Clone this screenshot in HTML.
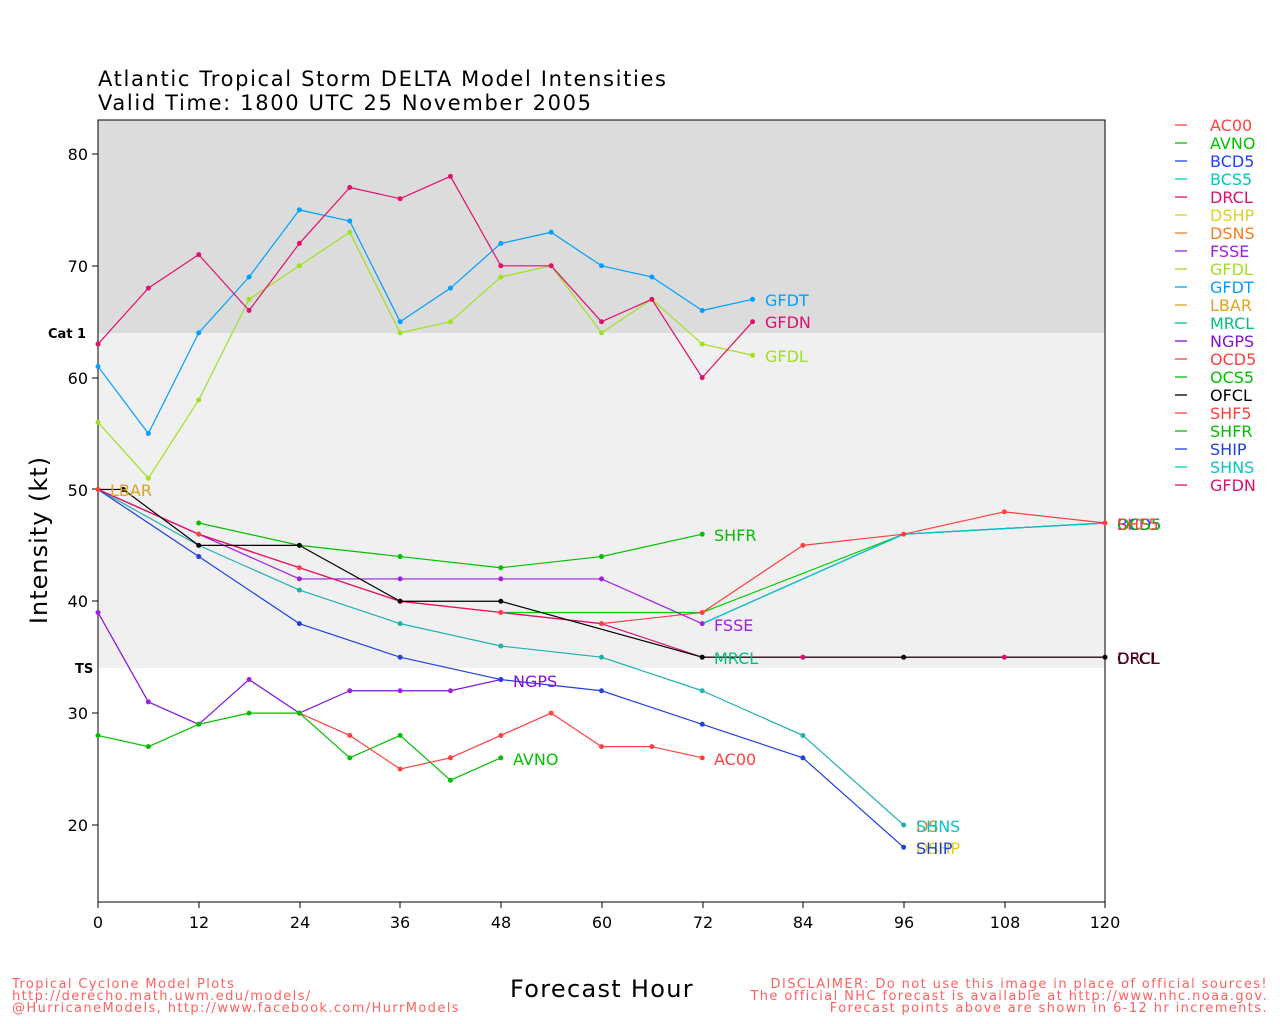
<!DOCTYPE html>
<html><head><meta charset="utf-8"><style>
body{margin:0;background:#fff}
svg{display:block;font-family:"DejaVu Sans","Liberation Sans",sans-serif}
</style></head><body>
<svg width="1280" height="1024" viewBox="0 0 1280 1024" xmlns="http://www.w3.org/2000/svg">
<rect width="1280" height="1024" fill="#fff"/>
<rect x="98" y="120" width="1007" height="213" fill="#dcdcdc"/>
<rect x="98" y="333" width="1007" height="335" fill="#f0f0f0"/>
<rect x="98" y="120" width="1007" height="782" fill="none" stroke="#000" stroke-width="1"/>
<text x="98" y="86" font-size="21" letter-spacing="1.65">Atlantic Tropical Storm DELTA Model Intensities</text>
<text x="98" y="110" font-size="21" letter-spacing="1.65">Valid Time: 1800 UTC 25 November 2005</text>
<g font-size="16" text-anchor="end">
<text x="88" y="160">80</text><text x="88" y="272">70</text><text x="88" y="384">60</text><text x="88" y="496">50</text><text x="88" y="607">40</text><text x="88" y="719">30</text><text x="88" y="831">20</text>
</g>
<g stroke="#000"><path d="M92 154h6M92 266h6M92 378h6M92 489h6M92 601h6M92 713h6M92 825h6M98 902v6M199 902v6M300 902v6M400 902v6M501 902v6M602 902v6M703 902v6M803 902v6M904 902v6M1005 902v6M1105 902v6"/></g>
<g font-size="16" text-anchor="middle">
<text x="98" y="928">0</text><text x="199" y="928">12</text><text x="300" y="928">24</text><text x="400" y="928">36</text><text x="501" y="928">48</text><text x="602" y="928">60</text><text x="703" y="928">72</text><text x="803" y="928">84</text><text x="904" y="928">96</text><text x="1005" y="928">108</text><text x="1105" y="928">120</text>
</g>
<text x="48" y="338" font-size="13" font-weight="bold">Cat 1</text>
<text x="75" y="673" font-size="13" font-weight="bold">TS</text>
<text transform="translate(47,540) rotate(-90)" font-size="24" text-anchor="middle" letter-spacing="1">Intensity (kt)</text>
<text x="602" y="997" font-size="24" text-anchor="middle" letter-spacing="1.3">Forecast Hour</text>
<g fill="#ff6060" font-size="13" letter-spacing="1.4">
<text x="12" y="988">Tropical Cyclone Model Plots</text>
<text x="12" y="1000">http://derecho.math.uwm.edu/models/</text>
<text x="12" y="1012">@HurricaneModels, http://www.facebook.com/HurrModels</text>
<g text-anchor="end"><text x="1268" y="988">DISCLAIMER: Do not use this image in place of official sources!</text>
<text x="1268" y="1000">The official NHC forecast is available at http://www.nhc.noaa.gov.</text>
<text x="1268" y="1012">Forecast points above are shown in 6-12 hr increments.</text></g>
</g>
<g transform="matrix(8.392,0,0,-11.183,98,1048.6)" fill="none" stroke-width="1.2" stroke-linejoin="round">
<g>
<polyline vector-effect="non-scaling-stroke" stroke="#00d000" points="48,39 60,39 72,39 96,46 120,47"/>
<polyline vector-effect="non-scaling-stroke" stroke="#2040ff" points="72,38 96,46 120,47"/>
<polyline vector-effect="non-scaling-stroke" stroke="#00c8c8" points="72,38 96,46 120,47"/>
<polyline vector-effect="non-scaling-stroke" stroke="#ff4040" points="0,50 12,46 24,43 36,40 48,39 60,38 72,39 84,45 96,46 108,48 120,47"/>
<polyline vector-effect="non-scaling-stroke" stroke="#f08020" points="0,50 12,46 24,43 36,40 48,39"/>
<polyline vector-effect="non-scaling-stroke" stroke="#a020e0" points="0,50 12,46 24,42 36,42 48,42 60,42 72,38"/>
<polyline vector-effect="non-scaling-stroke" stroke="#00c000" points="12,47 24,45 36,44 48,43 60,44 72,46"/>
<polyline vector-effect="non-scaling-stroke" stroke="#20b0b0" points="0,50 12,45 24,41 36,38 48,36 60,35 72,32 84,28 96,20"/>
<polyline vector-effect="non-scaling-stroke" stroke="#2040e0" points="0,50 12,44 24,38 36,35 48,33 60,32 72,29 84,26 96,18"/>
<polyline vector-effect="non-scaling-stroke" stroke="#e0106e" points="0,50 12,46 24,43 36,40 48,39 60,38 72,35 84,35 96,35 108,35 120,35"/>
<polyline vector-effect="non-scaling-stroke" stroke="#000" points="0,50 3,50 12,45 24,45 36,40 48,40 72,35 96,35 120,35"/>
<polyline vector-effect="non-scaling-stroke" stroke="#8010e0" points="0,39 6,31 12,29 18,33 24,30 30,32 36,32 42,32 48,33"/>
<polyline vector-effect="non-scaling-stroke" stroke="#00c000" points="0,28 6,27 12,29 18,30 24,30 30,26 36,28 42,24 48,26"/>
<polyline vector-effect="non-scaling-stroke" stroke="#ff4040" points="24,30 30,28 36,25 42,26 48,28 54,30 60,27 66,27 72,26"/>
<polyline vector-effect="non-scaling-stroke" stroke="#a0e020" points="0,56 6,51 12,58 18,67 24,70 30,73 36,64 42,65 48,69 54,70 60,64 66,67 72,63 78,62"/>
<polyline vector-effect="non-scaling-stroke" stroke="#00a0ff" points="0,61 6,55 12,64 18,69 24,75 30,74 36,65 42,68 48,72 54,73 60,70 66,69 72,66 78,67"/>
<polyline vector-effect="non-scaling-stroke" stroke="#e0106e" points="0,63 6,68 12,71 18,66 24,72 30,77 36,76 42,78 48,70 54,70 60,65 66,67 72,60 78,65"/>
</g>
<g stroke-width="5" stroke-linecap="round">
<path vector-effect="non-scaling-stroke" stroke="#ff4040" d="M0 50h0M12 46h0M24 43h0M36 40h0M48 39h0M60 38h0M72 39h0M84 45h0M96 46h0M108 48h0M120 47h0M24 30h0M30 28h0M36 25h0M42 26h0M48 28h0M54 30h0M60 27h0M66 27h0M72 26h0"/>
<path vector-effect="non-scaling-stroke" stroke="#a020e0" d="M24 42h0M36 42h0M48 42h0M60 42h0M72 38h0M0 39h0M6 31h0M12 29h0M18 33h0M24 30h0M30 32h0M36 32h0M42 32h0M48 33h0"/>
<path vector-effect="non-scaling-stroke" stroke="#00c000" d="M12 47h0M24 45h0M36 44h0M48 43h0M60 44h0M72 46h0M0 28h0M6 27h0M12 29h0M18 30h0M24 30h0M30 26h0M36 28h0M42 24h0M48 26h0"/>
<path vector-effect="non-scaling-stroke" stroke="#20b0b0" d="M24 41h0M36 38h0M48 36h0M60 35h0M72 32h0M84 28h0M96 20h0"/>
<path vector-effect="non-scaling-stroke" stroke="#2040e0" d="M12 44h0M24 38h0M36 35h0M48 33h0M60 32h0M72 29h0M84 26h0M96 18h0"/>
<path vector-effect="non-scaling-stroke" stroke="#000" d="M3 50h0M12 45h0M24 45h0M36 40h0M48 40h0M72 35h0M96 35h0M120 35h0"/>
<path vector-effect="non-scaling-stroke" stroke="#e0106e" d="M84 35h0M108 35h0"/>
<path vector-effect="non-scaling-stroke" stroke="#a0e020" d="M0 56h0M6 51h0M12 58h0M18 67h0M24 70h0M30 73h0M36 64h0M42 65h0M48 69h0M54 70h0M60 64h0M66 67h0M72 63h0M78 62h0"/>
<path vector-effect="non-scaling-stroke" stroke="#00a0ff" d="M0 61h0M6 55h0M12 64h0M18 69h0M24 75h0M30 74h0M36 65h0M42 68h0M48 72h0M54 73h0M60 70h0M66 69h0M72 66h0M78 67h0"/>
<path vector-effect="non-scaling-stroke" stroke="#e0106e" d="M0 63h0M6 68h0M12 71h0M18 66h0M24 72h0M30 77h0M36 76h0M42 78h0M48 70h0M54 70h0M60 65h0M66 67h0M72 60h0M78 65h0"/>
</g>
</g>
<g font-size="16">
<text x="765" y="306" fill="#00a0ff">GFDT</text>
<text x="765" y="328" fill="#e0106e">GFDN</text>
<text x="765" y="362" fill="#a0e020">GFDL</text>
<text x="110" y="496" fill="#e0a020">LBAR</text>
<text x="714" y="541" fill="#00c000">SHFR</text>
<text x="714" y="631" fill="#a020e0">FSSE</text>
<text x="714" y="664" fill="#00c080">MRCL</text>
<text x="513" y="687" fill="#8010e0">NGPS</text>
<text x="513" y="765" fill="#00c000">AVNO</text>
<text x="714" y="765" fill="#ff4040">AC00</text>
<text x="916" y="832" fill="#f08020">DS</text>
<text x="916" y="832" fill="#00c8c8">SHNS</text>
<text x="916" y="854" fill="#e0d020">DSHP</text>
<text x="916" y="854" fill="#2040e0">SHIP</text>
<text x="1117" y="530" fill="#2040ff">BCD5</text>
<text x="1117" y="530" fill="#00c000">OCS5</text>
<text x="1117" y="530" fill="#ff4040">SHF5</text>
<text x="1117" y="664" fill="#000">OFCL</text>
<text x="1117" y="664" fill="#600020">DRCL</text>
</g>
<g font-size="16" stroke-width="1.3">
<line x1="1175" y1="125" x2="1187" y2="125" stroke="#ff4040"/><text x="1210" y="131" fill="#ff4040">AC00</text>
<line x1="1175" y1="143" x2="1187" y2="143" stroke="#00c000"/><text x="1210" y="149" fill="#00c000">AVNO</text>
<line x1="1175" y1="161" x2="1187" y2="161" stroke="#2040ff"/><text x="1210" y="167" fill="#2040ff">BCD5</text>
<line x1="1175" y1="179" x2="1187" y2="179" stroke="#00c8c8"/><text x="1210" y="185" fill="#00c8c8">BCS5</text>
<line x1="1175" y1="197" x2="1187" y2="197" stroke="#e0106e"/><text x="1210" y="203" fill="#e0106e">DRCL</text>
<line x1="1175" y1="215" x2="1187" y2="215" stroke="#e0d020"/><text x="1210" y="221" fill="#e0d020">DSHP</text>
<line x1="1175" y1="233" x2="1187" y2="233" stroke="#f08020"/><text x="1210" y="239" fill="#f08020">DSNS</text>
<line x1="1175" y1="251" x2="1187" y2="251" stroke="#a020e0"/><text x="1210" y="257" fill="#a020e0">FSSE</text>
<line x1="1175" y1="269" x2="1187" y2="269" stroke="#a0e020"/><text x="1210" y="275" fill="#a0e020">GFDL</text>
<line x1="1175" y1="287" x2="1187" y2="287" stroke="#00a0ff"/><text x="1210" y="293" fill="#00a0ff">GFDT</text>
<line x1="1175" y1="305" x2="1187" y2="305" stroke="#e0a020"/><text x="1210" y="311" fill="#e0a020">LBAR</text>
<line x1="1175" y1="323" x2="1187" y2="323" stroke="#00c080"/><text x="1210" y="329" fill="#00c080">MRCL</text>
<line x1="1175" y1="341" x2="1187" y2="341" stroke="#8010e0"/><text x="1210" y="347" fill="#8010e0">NGPS</text>
<line x1="1175" y1="359" x2="1187" y2="359" stroke="#ff4040"/><text x="1210" y="365" fill="#ff4040">OCD5</text>
<line x1="1175" y1="377" x2="1187" y2="377" stroke="#00c000"/><text x="1210" y="383" fill="#00c000">OCS5</text>
<line x1="1175" y1="395" x2="1187" y2="395" stroke="#000"/><text x="1210" y="401" fill="#000">OFCL</text>
<line x1="1175" y1="413" x2="1187" y2="413" stroke="#ff4040"/><text x="1210" y="419" fill="#ff4040">SHF5</text>
<line x1="1175" y1="431" x2="1187" y2="431" stroke="#00c000"/><text x="1210" y="437" fill="#00c000">SHFR</text>
<line x1="1175" y1="449" x2="1187" y2="449" stroke="#2040e0"/><text x="1210" y="455" fill="#2040e0">SHIP</text>
<line x1="1175" y1="467" x2="1187" y2="467" stroke="#00c8c8"/><text x="1210" y="473" fill="#00c8c8">SHNS</text>
<line x1="1175" y1="485" x2="1187" y2="485" stroke="#e0106e"/><text x="1210" y="491" fill="#e0106e">GFDN</text>
</g>
</svg>
</body></html>
